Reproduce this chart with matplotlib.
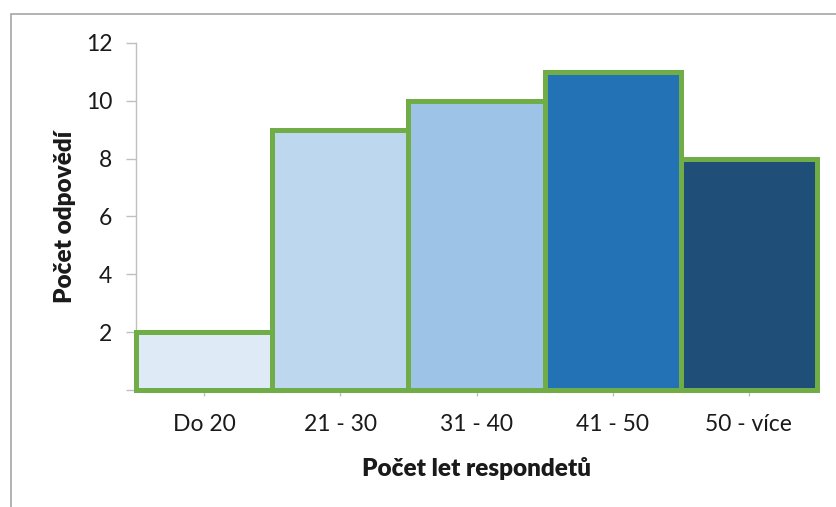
import matplotlib
matplotlib.use('Agg')
import matplotlib.pyplot as plt
from matplotlib.patches import Rectangle
import numpy as np

kategorie = ['Do 20', '21 - 30', '31 - 40', '41 - 50', '50 - více']
odpovedi = [2, 9, 10, 11, 8]
barvy = ['#DEEBF7', '#BDD7EE', '#9DC3E6', '#2372B5', '#1F4E79']
zelena = '#70AD47'
seda = '#BFBFBF'

plt.rcParams['font.family'] = ['Lato', 'DejaVu Sans']

fig = plt.figure(figsize=(8.36, 5.07), dpi=100)
ax = fig.add_axes([0.1627, 0.2308, 0.8146, 0.6844])

x = np.arange(len(kategorie))
ax.bar(x, odpovedi, width=1.0, color=barvy, edgecolor=zelena,
       linewidth=3.6, clip_on=False, zorder=3)

ax.set_xlim(-0.5, len(kategorie) - 0.5)
ax.set_ylim(0, 12)
ax.set_yticks([0, 2, 4, 6, 8, 10, 12])
ax.set_yticklabels(['', '2', '4', '6', '8', '10', '12'])
ax.set_xticks(x)
ax.set_xticklabels(kategorie)
ax.set_xticks(np.arange(len(kategorie) + 1) - 0.5, minor=True)

for s in ['top', 'right']:
    ax.spines[s].set_visible(False)
for s in ['left', 'bottom']:
    ax.spines[s].set_color(seda)
    ax.spines[s].set_linewidth(1.0)

ax.tick_params(axis='y', length=7, width=1, color=seda, labelsize=16.5,
               labelcolor='#1A1A1A', pad=10)
ax.tick_params(axis='x', which='major', length=4, width=1, color=seda,
               labelsize=16.5, labelcolor='#1A1A1A', pad=13)
ax.tick_params(axis='x', which='minor', length=4, width=1, color=seda,
               direction='in')

ax.set_ylabel('Počet odpovědí', fontsize=17.5, fontweight='heavy',
              color='#1A1A1A', labelpad=7)
ax.set_xlabel('Počet let respondetů', fontsize=17.5, fontweight='heavy',
              color='#1A1A1A', labelpad=16)

# ramecek grafu
fig.patches.append(Rectangle((11 / 836, -0.1), 1.2, 1.1 - 14 / 507,
                             transform=fig.transFigure, fill=False,
                             edgecolor='#A6A6A6', linewidth=1.2))

plt.savefig('out.png', dpi=100)
